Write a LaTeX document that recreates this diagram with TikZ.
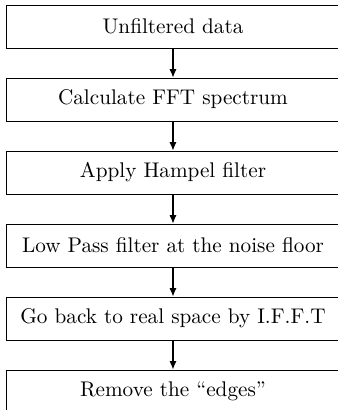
\documentclass[tikz,border=0pt]{standalone}
\usetikzlibrary{arrows.meta}
\begin{document}
\begin{tikzpicture}[x=1pt,y=1pt,
  stepbox/.style={draw, minimum width=157pt, minimum height=20.3pt, inner sep=0pt, font=\fontsize{10}{12}\selectfont},
  flow/.style={-{Latex[length=4pt,width=3.4pt]}, line width=0.55pt}]
\useasboundingbox (0,0) rectangle (159.4,-193.4);
\node[stepbox] (a) at (81.6,-12.5) {Unfiltered data};
\node[stepbox] (b) at (81.6,-46.93) {Calculate FFT spectrum};
\node[stepbox] (c) at (81.6,-81.36) {Apply Hampel filter};
\node[stepbox] (d) at (81.6,-115.79) {Low Pass filter at the noise floor};
\node[stepbox] (e) at (81.6,-150.22) {Go back to real space by I.F.F.T};
\node[stepbox] (f) at (81.6,-184.65) {Remove the ``edges''};
\draw[flow] (a) -- (b);
\draw[flow] (b) -- (c);
\draw[flow] (c) -- (d);
\draw[flow] (d) -- (e);
\draw[flow] (e) -- (f);
\end{tikzpicture}
\end{document}
